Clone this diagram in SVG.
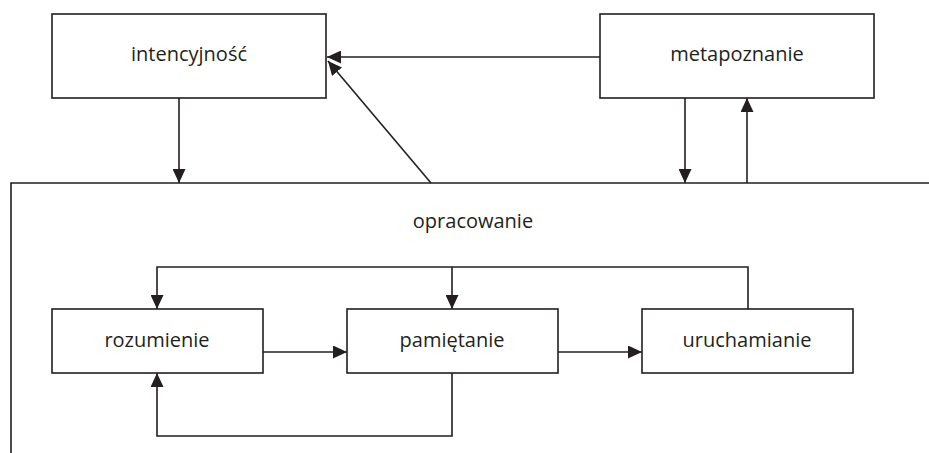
<svg xmlns="http://www.w3.org/2000/svg" width="929" height="453" viewBox="0 0 929 453">
  <style>
    .box { fill: #ffffff; stroke: #231f20; stroke-width: 1.6; }
    .ln { fill: none; stroke: #231f20; stroke-width: 1.6; }
    .lbl { font-family: "Open Sans", "Noto Sans", sans-serif; font-size: 20px; fill: #231f20; text-anchor: middle; }
  </style>
  <defs>
    <marker id="arr" viewBox="0 0 14 13" refX="14" refY="6.5" markerWidth="14" markerHeight="13" markerUnits="userSpaceOnUse" orient="auto">
      <path d="M0,0 L14,6.5 L0,13 Z" fill="#231f20"/>
    </marker>
  </defs>
  <rect width="929" height="453" fill="#ffffff"/>

  <!-- connectors -->
  <g id="connectors">
    <!-- frame of the elaboration area -->
    <path class="ln" d="M11,453 V183 H929"/>
    <path class="ln" d="M179,98 V183" marker-end="url(#arr)"/>
    <path class="ln" d="M600,57 H327" marker-end="url(#arr)"/>
    <path class="ln" d="M431,183 L328,61" marker-end="url(#arr)"/>
    <path class="ln" d="M685,98 V183" marker-end="url(#arr)"/>
    <path class="ln" d="M747,183 V98" marker-end="url(#arr)"/>
    <!-- inner loops -->
    <path class="ln" d="M748,309 V267 H157 V309" marker-end="url(#arr)"/>
    <path class="ln" d="M452,267 V309" marker-end="url(#arr)"/>
    <path class="ln" d="M263,352 H347" marker-end="url(#arr)"/>
    <path class="ln" d="M558,352 H642" marker-end="url(#arr)"/>
    <path class="ln" d="M452,373 V436 H157 V373" marker-end="url(#arr)"/>
  </g>

  <text class="lbl" x="473" y="228">opracowanie</text>

  <g id="intencyjnosc">
    <rect class="box" x="52" y="14" width="274" height="84"/>
    <text class="lbl" x="189" y="61">intencyjność</text>
  </g>
  <g id="metapoznanie">
    <rect class="box" x="600" y="14" width="274" height="84"/>
    <text class="lbl" x="737" y="61">metapoznanie</text>
  </g>
  <g id="rozumienie">
    <rect class="box" x="52" y="309" width="211" height="64"/>
    <text class="lbl" x="157" y="347">rozumienie</text>
  </g>
  <g id="pamietanie">
    <rect class="box" x="347" y="309" width="211" height="64"/>
    <text class="lbl" x="452" y="347">pamiętanie</text>
  </g>
  <g id="uruchamianie">
    <rect class="box" x="642" y="309" width="211" height="64"/>
    <text class="lbl" x="747" y="347">uruchamianie</text>
  </g>
</svg>
